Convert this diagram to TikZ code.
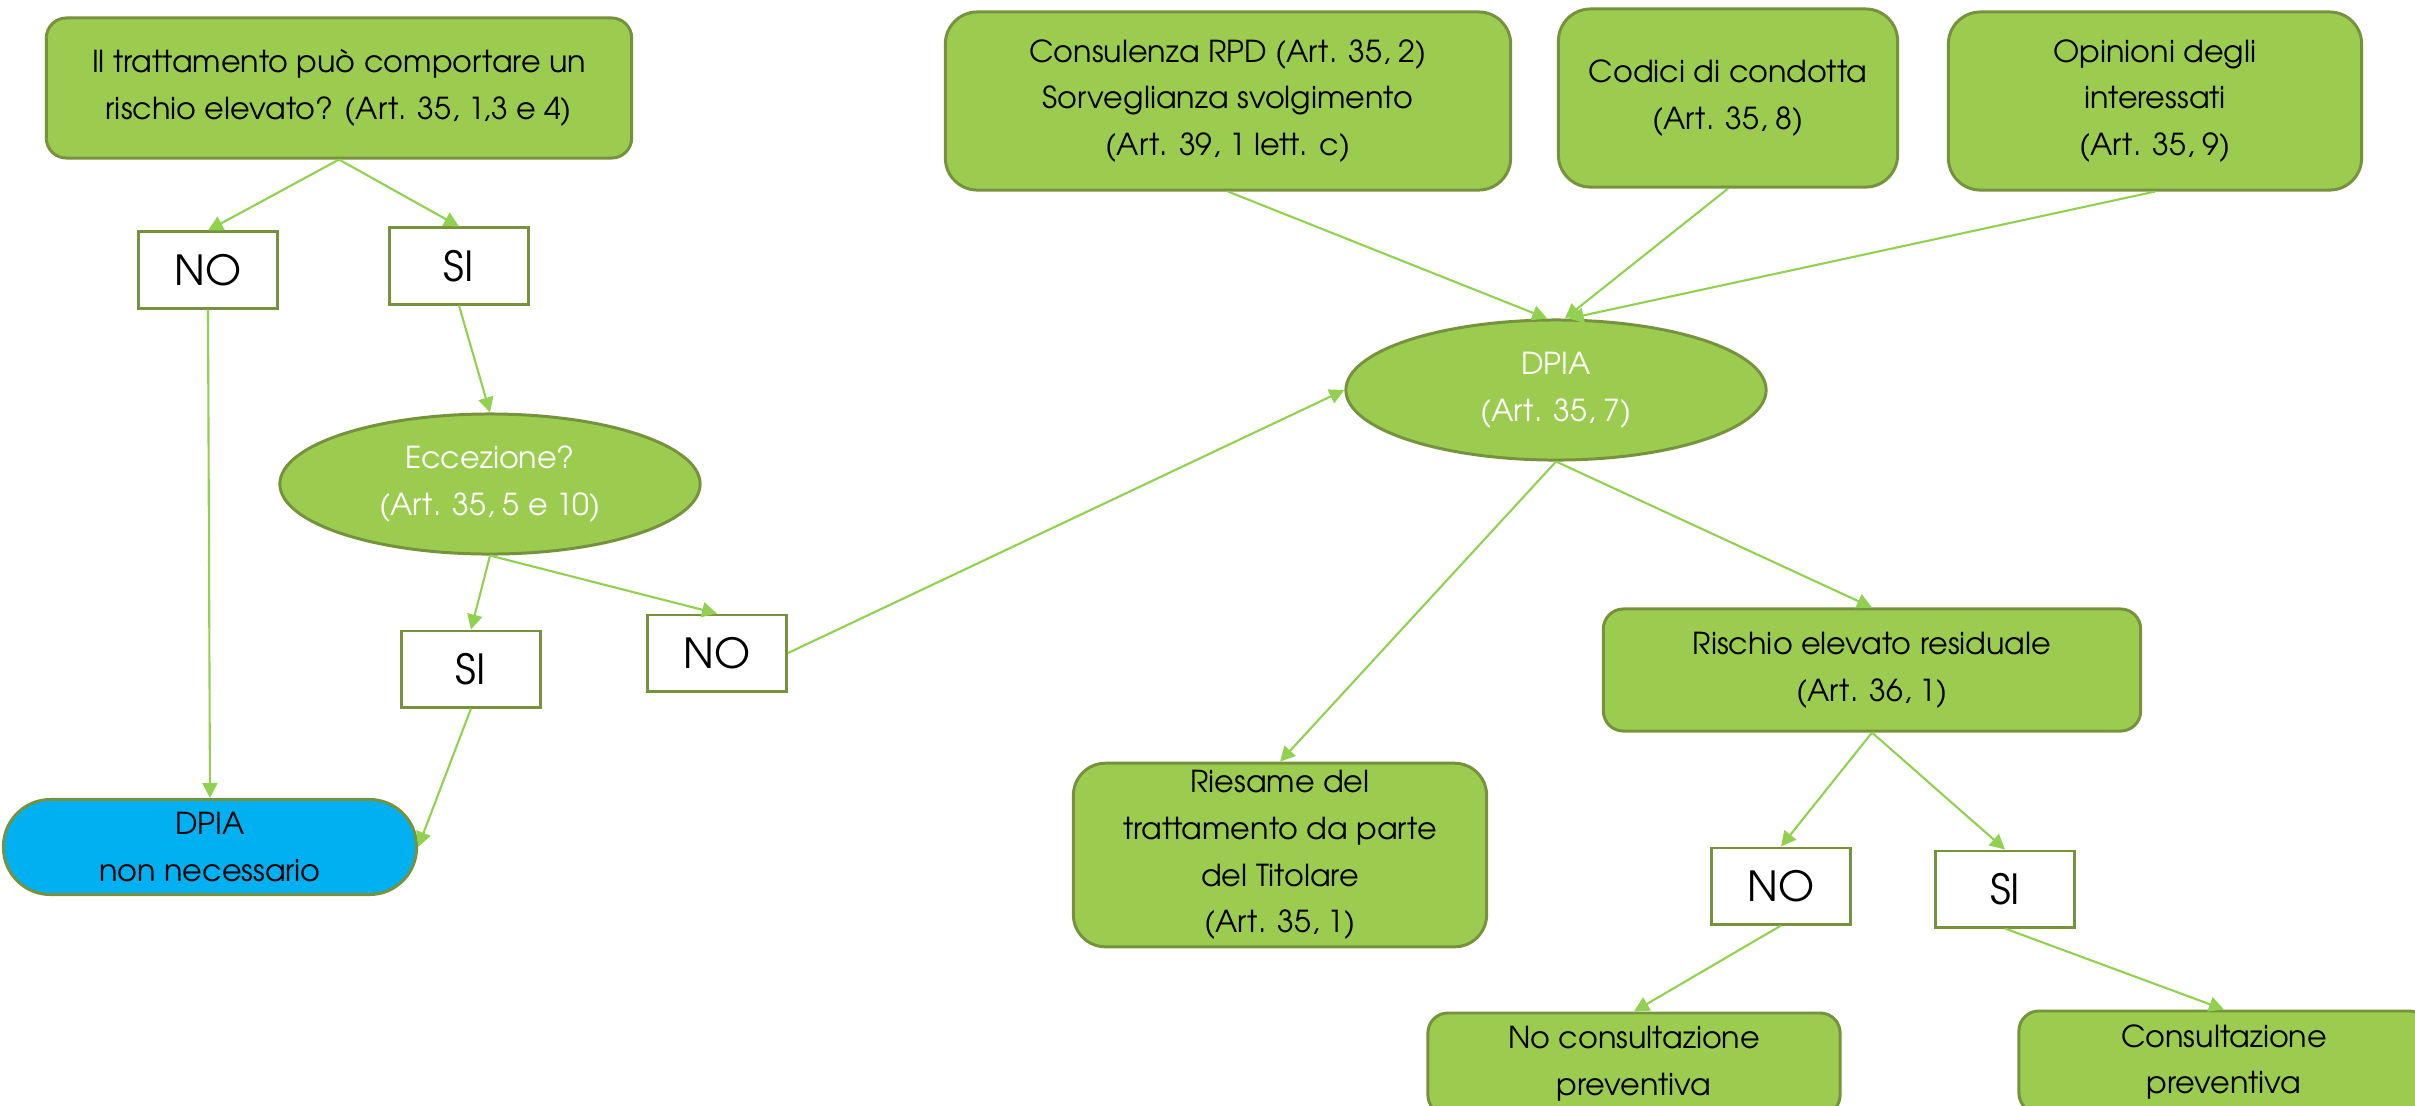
\documentclass[tikz,border=0pt]{standalone}
\usepackage{fontspec}
\setmainfont{texgyreadventor}[Extension=.otf,UprightFont=*-regular]
\usepackage{xcolor}
\usepackage{tikz}
\definecolor{verde}{HTML}{9BCC50}
\definecolor{bordo}{HTML}{76923C}
\definecolor{linea}{HTML}{92D050}
\definecolor{azzurro}{HTML}{00B0F0}
\tikzset{
	testo/.style={
			align=center, inner sep=2pt,
			font=\fontsize{8.6}{13.3}\selectfont
		}
}
\tikzstyle{box} = [testo, draw=bordo, line width=0.85pt, fill=verde, rounded corners=0.2cm]
\tikzstyle{big} = [box, rounded corners=0.32cm, minimum height=1.78cm]
\tikzstyle{oval} = [testo, ellipse, draw=bordo, line width=0.85pt, fill=verde, text=white, minimum width=4.2cm, minimum height=1.4cm]
\tikzstyle{yn} = [draw=bordo, line width=0.85pt, fill=white, minimum width=1.39cm, minimum height=0.76cm, font=\fontsize{11.8}{14}\selectfont]
\tikzstyle{arr} = [-{Triangle[length=0.15cm,width=0.15cm]}, draw=linea, line width=0.6pt]
\usetikzlibrary{arrows.meta,calc,shapes.geometric}

\begin{document}
\begin{tikzpicture}[x=0.01cm, y=-0.01cm]

\useasboundingbox (0,0) rectangle (2415,1105);

% Nodes
\node (q1) [box, minimum width=5.85cm, minimum height=1.4cm] at (339,88) {Il trattamento può comportare un\\rischio elevato? (Art. 35, 1,3 e 4)};
\node (no1) [yn] at (208,270) {NO};
\node (si1) [yn] at (459,266) {SI};
\node (ecc) [oval] at (490,484) {Eccezione?\\(Art. 35, 5 e 10)};
\node (si2) [yn] at (471,669) {SI};
\node (no2) [yn] at (717,653) {NO};
\node (stop) [testo, draw=bordo, line width=0.85pt, fill=azzurro, rounded corners=0.47cm, minimum width=4.13cm, minimum height=0.95cm] at (210,847) {DPIA\\non necessario};

\node (rpd) [big, minimum width=5.65cm] at (1228,101) {Consulenza RPD (Art. 35, 2)\\Sorveglianza svolgimento\\(Art. 39, 1 lett. c)};
\node (codici) [big, minimum width=3.39cm] at (1728,98) {Codici di condotta\\(Art. 35, 8)};
\node (opinioni) [big, minimum width=4.13cm] at (2155,101) {Opinioni degli\\interessati\\(Art. 35, 9)};
\node (dpia) [oval] at (1556,390) {DPIA\\(Art. 35, 7)};

\node (riesame) [big, minimum width=4.13cm, minimum height=1.75cm] at (1280,855) {Riesame del\\trattamento da parte\\del Titolare\\(Art. 35, 1)};
\node (rischio) [box, minimum width=5.37cm, minimum height=1.22cm] at (1872,670) {Rischio elevato residuale\\(Art. 36, 1)};
\node (no3) [yn] at (1781,886) {NO};
\node (si3) [yn] at (2005,889) {SI};
\node (nocons) [box, minimum width=4.12cm, minimum height=1.02cm] at (1634,1064) {No consultazione\\preventiva};
\node (cons) [box, minimum width=4.1cm, minimum height=1.02cm] at (2224,1062) {Consultazione\\preventiva};

% Arrows
\draw[arr] (q1.south) -- (no1.north);
\draw[arr] (q1.south) -- (si1.north);
\draw[arr] (si1.south) -- (ecc.north);
\draw[arr] (no1.south) -- (stop.north);
\draw[arr] (ecc.south) -- (si2.north);
\draw[arr] (ecc.south) -- (no2.north);
\draw[arr] (si2.south) -- (stop.east);
\draw[arr] (no2.east) -- (dpia.west);

\draw[arr] (rpd.south) -- (dpia.97);
\draw[arr] (codici.south) -- (dpia.83);
\draw[arr] (opinioni.south) -- (dpia.80);

\draw[arr] (dpia.south) -- (riesame.north);
\draw[arr] (dpia.south) -- (rischio.north);
\draw[arr] (rischio.south) -- (no3.north);
\draw[arr] (rischio.south) -- (si3.north);
\draw[arr] (no3.south) -- (nocons.north);
\draw[arr] (si3.south) -- (cons.north);

\end{tikzpicture}
\end{document}
